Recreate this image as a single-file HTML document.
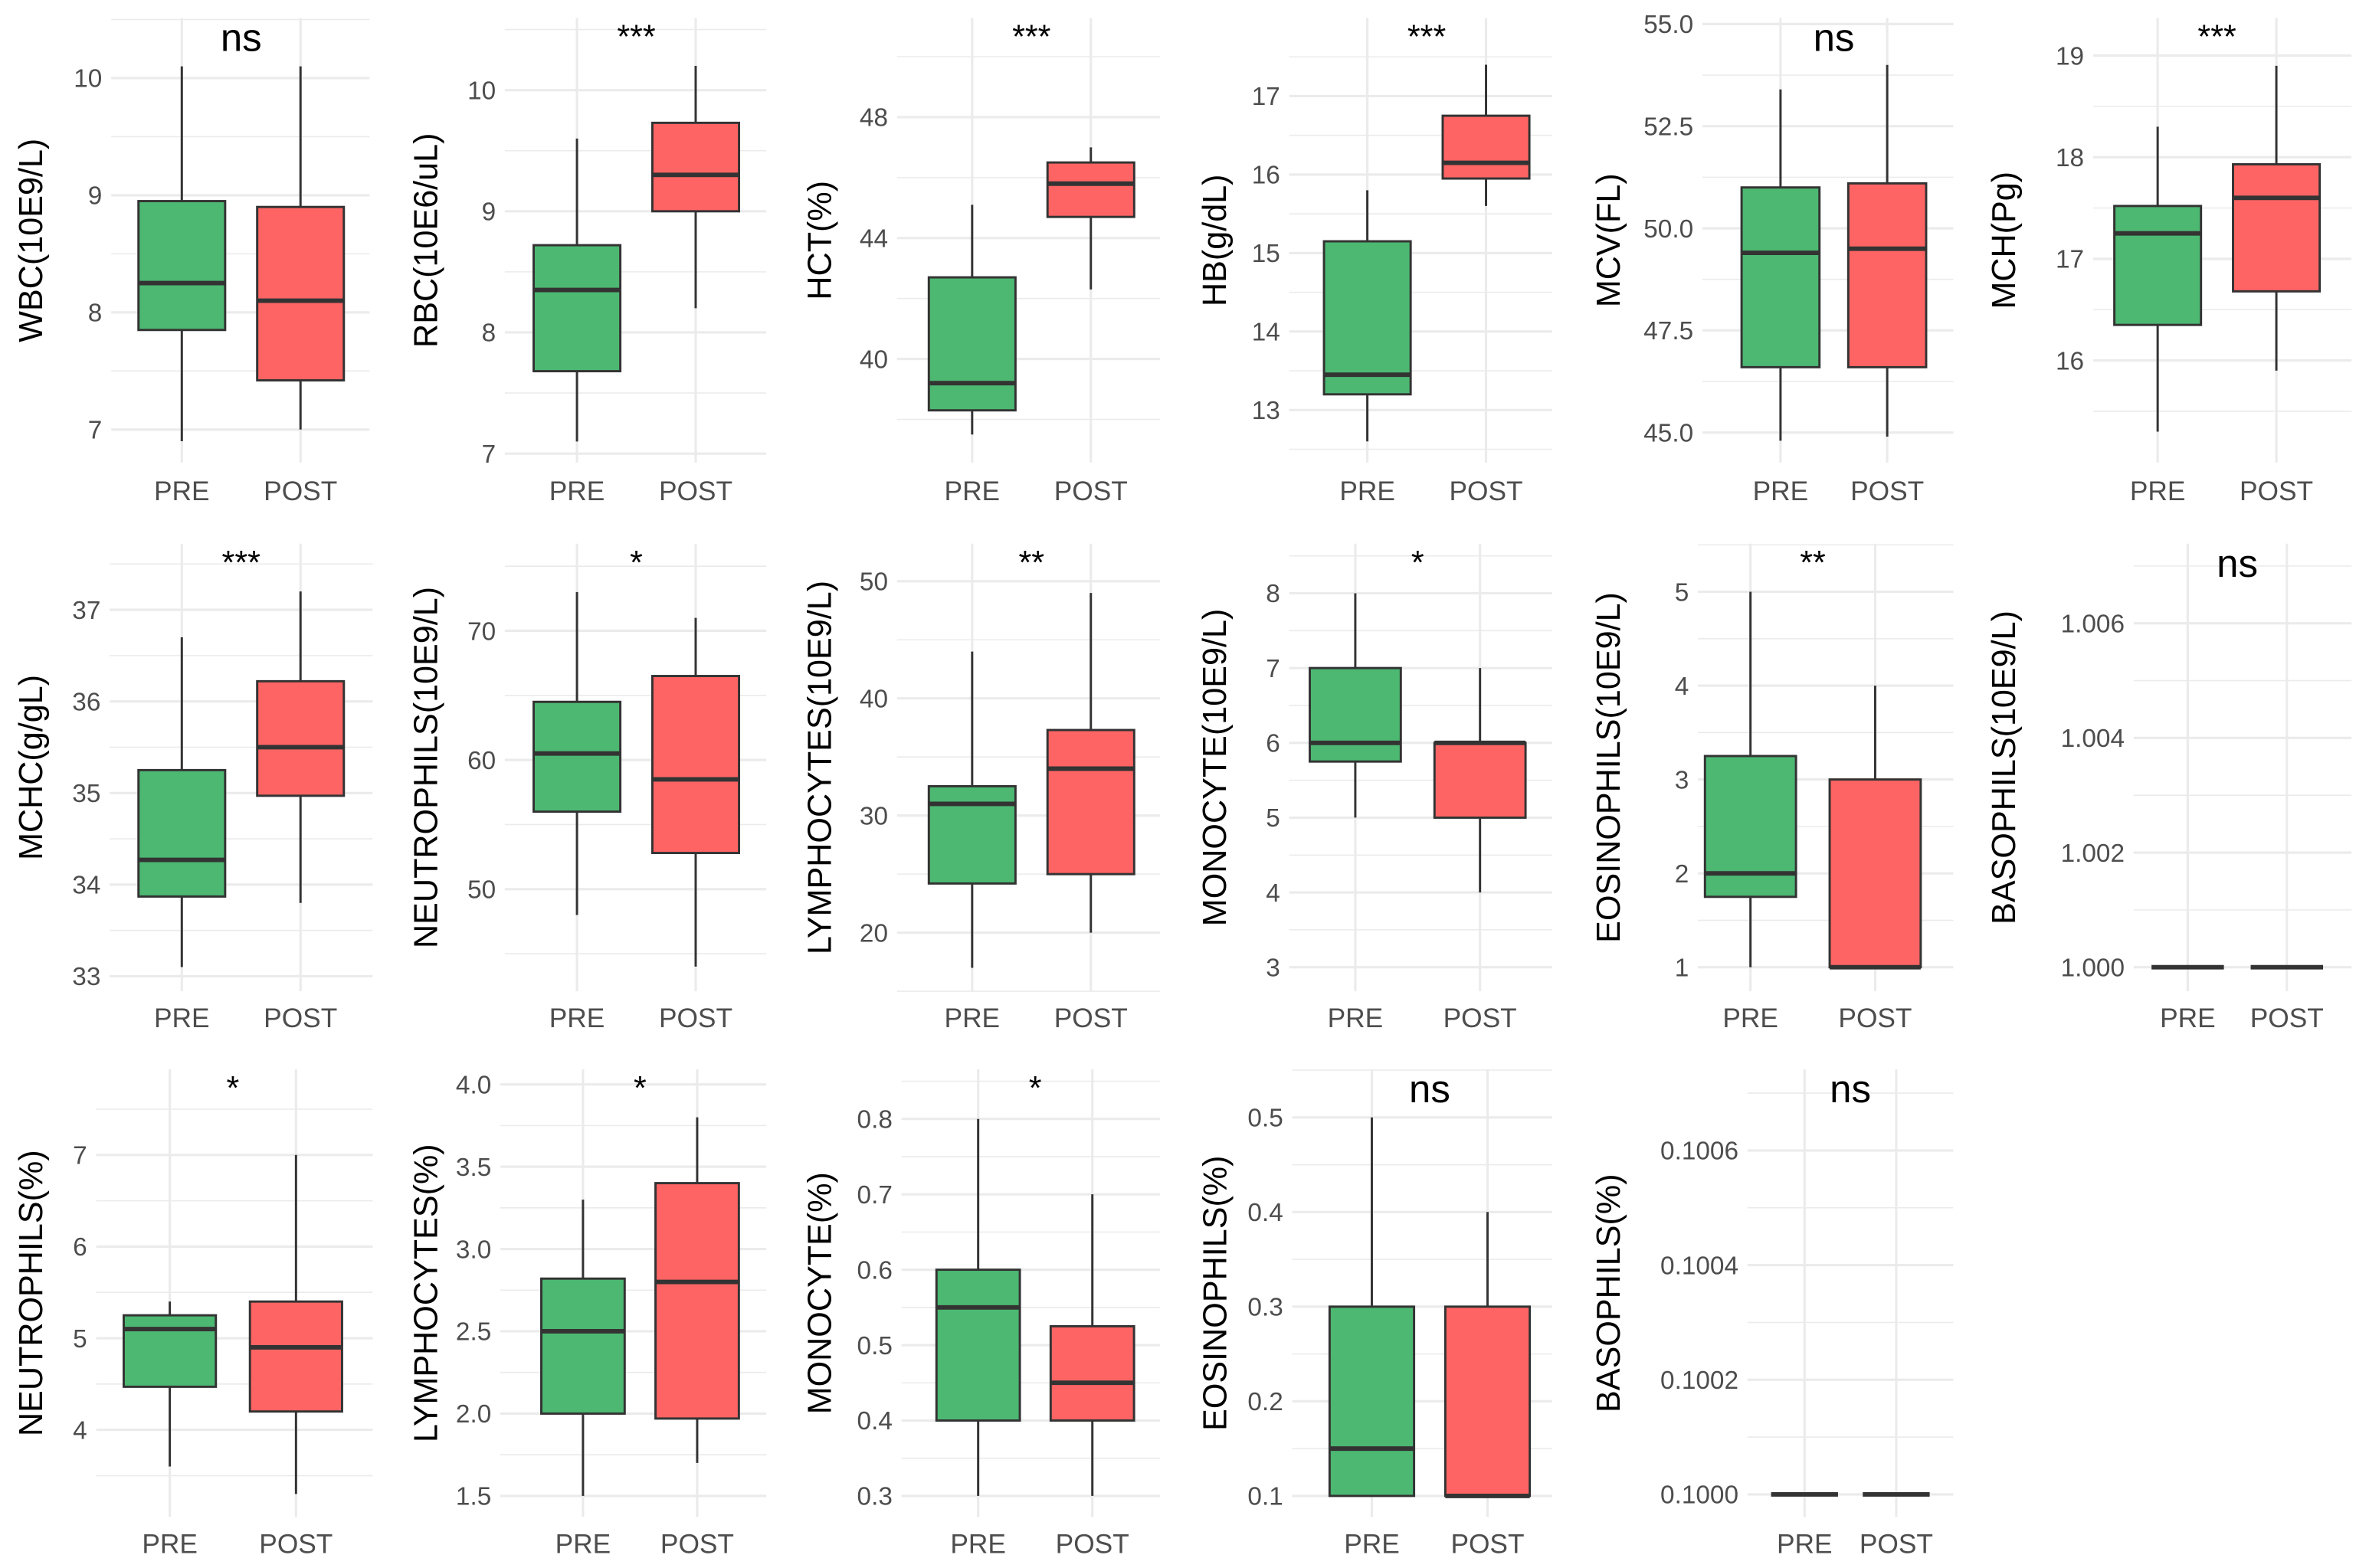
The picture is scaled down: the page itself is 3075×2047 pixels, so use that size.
<!DOCTYPE html>
<html><head><meta charset="utf-8"><style>
html,body{margin:0;padding:0;background:#fff;}
svg{display:block;font-family:"Liberation Sans",sans-serif;}
</style></head><body>
<svg id="chart" width="3075" height="2047" viewBox="0 0 1568 1044" preserveAspectRatio="none" xmlns="http://www.w3.org/2000/svg"></svg>
<script>
const yTitles=["WBC(10E9/L)","RBC(10E6/uL)","HCT(%)","HB(g/dL)","MCV(FL)","MCH(Pg)","MCHC(g/gL)","NEUTROPHILS(10E9/L)","LYMPHOCYTES(10E9/L)","MONOCYTE(10E9/L)","EOSINOPHILS(10E9/L)","BASOPHILS(10E9/L)","NEUTROPHILS(%)","LYMPHOCYTES(%)","MONOCYTE(%)","EOSINOPHILS(%)","BASOPHILS(%)"];
const sigLabels=["ns","***","***","***","ns","***","***","*","**","*","**","ns","*","*","*","ns","ns"];
const groups=["PRE","POST"];
const tickValues=[[7,8,9,10],[7,8,9,10],[40,44,48],[13,14,15,16,17],[45,47.5,50,52.5,55],[16,17,18,19],[33,34,35,36,37],[50,60,70],[20,30,40,50],[3,4,5,6,7,8],[1,2,3,4,5],[1.000,1.002,1.004,1.006],[4,5,6,7],[1.5,2,2.5,3,3.5,4],[0.3,0.4,0.5,0.6,0.7,0.8],[0.1,0.2,0.3,0.4,0.5],[0.1,0.1002,0.1004,0.1006]];
const tickLabels=[["7","8","9","10"],["7","8","9","10"],["40","44","48"],["13","14","15","16","17"],["45.0","47.5","50.0","52.5","55.0"],["16","17","18","19"],["33","34","35","36","37"],["50","60","70"],["20","30","40","50"],["3","4","5","6","7","8"],["1","2","3","4","5"],["1.000","1.002","1.004","1.006"],["4","5","6","7"],["1.5","2.0","2.5","3.0","3.5","4.0"],["0.3","0.4","0.5","0.6","0.7","0.8"],["0.1","0.2","0.3","0.4","0.5"],["0.1000","0.1002","0.1004","0.1006"]];
// [whiskerLow, q1, median, q3, whiskerHigh]
const preStats=[[6.9,7.85,8.25,8.95,10.1],[7.1,7.68,8.35,8.72,9.6],[37.5,38.3,39.2,42.7,45.1],[12.6,13.2,13.45,15.15,15.8],[44.8,46.6,49.4,51.0,53.4],[15.3,16.35,17.25,17.52,18.3],[33.1,33.87,34.27,35.25,36.7],[48,56,60.5,64.5,73],[17,24.2,31,32.5,44],[5,5.75,6,7,8],[1,1.75,2,3.25,5],[1,1,1,1,1],[3.6,4.47,5.1,5.25,5.4],[1.5,2.0,2.5,2.82,3.3],[0.3,0.4,0.55,0.6,0.8],[0.1,0.1,0.15,0.3,0.5],[0.1,0.1,0.1,0.1,0.1]];
const postStats=[[7.0,7.42,8.1,8.9,10.1],[8.2,9.0,9.3,9.73,10.2],[42.3,44.7,45.8,46.5,47.0],[15.6,15.95,16.15,16.75,17.4],[44.9,46.6,49.5,51.1,54.0],[15.9,16.68,17.6,17.93,18.9],[33.8,34.97,35.5,36.22,37.2],[44,52.8,58.5,66.5,71],[20,25,34,37.3,49],[4,5,6,6,7],[1,1,1,3,4],[1,1,1,1,1],[3.3,4.2,4.9,5.4,7.0],[1.7,1.97,2.8,3.4,3.8],[0.3,0.4,0.45,0.525,0.7],[0.1,0.1,0.1,0.3,0.4],[0.1,0.1,0.1,0.1,0.1]];

// layout (pixel geometry, not data)
const layout=[
 {x0:74,x1:246,xp:121,xq:200,row:0,c:0,tA:[10,52],tB:[7,286],lx:20},
 {x0:336,x1:510,xp:384,xq:463,row:0,c:1,tA:[10,60],tB:[7,302],lx:283},
 {x0:597,x1:772,xp:647,xq:726,row:0,c:2,tA:[48,78],tB:[40,239],lx:545},
 {x0:858,x1:1033,xp:910,xq:989,row:0,c:3,tA:[17,64],tB:[13,273],lx:808},
 {x0:1133,x1:1300,xp:1185,xq:1256,row:0,c:4,tA:[55,16],tB:[45,288],lx:1070},
 {x0:1393,x1:1565,xp:1436,xq:1515,row:0,c:5,tA:[19,37],tB:[16,240],lx:1333},
 {x0:73,x1:248,xp:121,xq:200,row:1,c:0,tA:[37,406],tB:[33,650],lx:20},
 {x0:336,x1:510,xp:384,xq:463,row:1,c:1,tA:[70,420],tB:[50,592],lx:283},
 {x0:597,x1:772,xp:647,xq:726,row:1,c:2,tA:[50,387],tB:[20,621],lx:545},
 {x0:858,x1:1033,xp:902,xq:985,row:1,c:3,tA:[8,395],tB:[3,644],lx:808},
 {x0:1130,x1:1300,xp:1165,xq:1248,row:1,c:4,tA:[5,394],tB:[1,644],lx:1070},
 {x0:1420,x1:1565,xp:1456,xq:1522,row:1,c:5,tA:[1.006,415],tB:[1.000,644],lx:1333},
 {x0:64,x1:248,xp:113,xq:197,row:2,c:0,tA:[7,769],tB:[4,952],lx:20},
 {x0:333,x1:510,xp:388,xq:464,row:2,c:1,tA:[4,722],tB:[1.5,996],lx:283},
 {x0:600,x1:772,xp:651,xq:727,row:2,c:2,tA:[0.8,745],tB:[0.3,996],lx:545},
 {x0:860,x1:1033,xp:913,xq:990,row:2,c:3,tA:[0.5,744],tB:[0.1,996],lx:808},
 {x0:1163,x1:1300,xp:1201,xq:1262,row:2,c:4,tA:[0.1006,766],tB:[0.1,995],lx:1070}
];
const rowTop=[12,362,712], rowBot=[308,660,1010], xLabY=[333,684,1034];
const NS="http://www.w3.org/2000/svg";
const svg=document.getElementById('chart');
function mk(tag,attrs,parent){const e=document.createElementNS(NS,tag);for(const k in attrs)e.setAttribute(k,attrs[k]);(parent||svg).appendChild(e);return e;}

yTitles.forEach((title,i)=>{
  const L=layout[i];
  const g=mk('g',{});
  
  
  const yScale=v=>L.tA[1]+(v-L.tA[0])*(L.tB[1]-L.tA[1])/(L.tB[0]-L.tA[0]);
  const top=rowTop[L.row], bot=rowBot[L.row];
  const tv=tickValues[i];
  const step=tv[1]-tv[0];
  // minor gridlines
  const minors=[];
  for(let k=-1;k<tv.length;k++){minors.push(tv[0]+(k+0.5)*step);}
  minors.forEach(v=>{const y=yScale(v);if(y>=top&&y<=bot){const l=mk('line',{x1:L.x0,x2:L.x1,y1:y,y2:y,stroke:'#ebebeb','stroke-width':0.8},g);}});
  // major gridlines + tick labels
  tv.forEach((v,k)=>{const y=yScale(v);
    const l=mk('line',{x1:L.x0,x2:L.x1,y1:y,y2:y,stroke:'#ebebeb','stroke-width':1.6},g);
    
    const t=mk('text',{x:L.x0-6,y:y+6,'text-anchor':'end','font-size':17,fill:'#4d4d4d'},g);
    t.textContent=tickLabels[i][k];
    
  });
  // vertical gridlines
  [L.xp,L.xq].forEach(x=>{const l=mk('line',{x1:x,x2:x,y1:top,y2:bot,stroke:'#ebebeb','stroke-width':1.6},g);});
  // boxes
  const bw=(L.xq-L.xp)*0.73;
  [[preStats[i],L.xp,'#4cb872','PRE'],[postStats[i],L.xq,'#ff6464','POST']].forEach(([s,x,col,nm])=>{
    const w=mk('line',{x1:x,x2:x,y1:yScale(s[0]),y2:yScale(s[4]),stroke:'#333','stroke-width':1.5},g);
    
    const yq3=yScale(s[3]), yq1=yScale(s[1]);
    const r=mk('rect',{x:x-bw/2,y:Math.min(yq1,yq3),width:bw,height:Math.abs(yq1-yq3),fill:col,stroke:'#333','stroke-width':1.5},g);
    
    const m=mk('line',{x1:x-bw/2,x2:x+bw/2,y1:yScale(s[2]),y2:yScale(s[2]),stroke:'#333','stroke-width':3},g);
    
  });
  // x labels
  [L.xp,L.xq].forEach((x,k)=>{const t=mk('text',{x:x,y:xLabY[L.row],'text-anchor':'middle','font-size':18,fill:'#4d4d4d'},g);t.textContent=groups[k];});
  // significance
  const sg=sigLabels[i], isNs=sg==='ns';
  const st=mk('text',{x:(L.xp+L.xq)/2,y:top+(isNs?22:20),'text-anchor':'middle','font-size':isNs?26:22,fill:'#000'},g);
  st.textContent=sg;
  
  // y title
  const cy=(top+bot)/2;
  const yt=mk('text',{x:L.lx,y:cy,'text-anchor':'middle','font-size':22,fill:'#000',transform:'rotate(-90 '+L.lx+' '+cy+') translate(0 8)'},g);
  yt.textContent=title;
  
});
</script>
</body></html>
